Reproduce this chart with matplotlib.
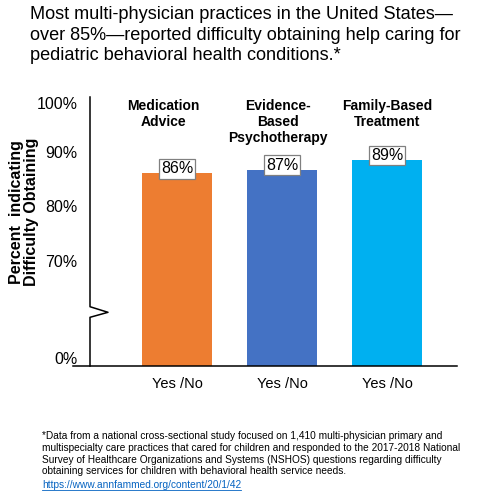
import numpy as np
import matplotlib
matplotlib.use("Agg")
import matplotlib.pyplot as plt
import matplotlib.transforms as mtransforms

plt.rcParams['font.family'] = ['Liberation Sans', 'DejaVu Sans']

categories = ["Medication\nAdvice", "Evidence-\nBased\nPsychotherapy", "Family-Based\nTreatment"]
values = [86.0, 86.7, 88.5]
value_labels = ["86%", "87%", "89%"]
xtick_labels = ["Yes /No", "Yes /No", "Yes /No"]
colors = ["#ED7D31", "#4472C4", "#00B0F0"]
ytick_values = [0, 70, 80, 90, 100]
ytick_labels = ["0%", "70%", "80%", "90%", "100%"]

title = ("Most multi-physician practices in the United States\u2014\n"
         "over 85%\u2014reported difficulty obtaining help caring for\n"
         "pediatric behavioral health conditions.*")
footnote = ("*Data from a national cross-sectional study focused on 1,410 multi-physician primary and\n"
            "multispecialty care practices that cared for children and responded to the 2017-2018 National\n"
            "Survey of Healthcare Organizations and Systems (NSHOS) questions regarding difficulty\n"
            "obtaining services for children with behavioral health service needs.")
url = "https://www.annfammed.org/content/20/1/42"

BREAK = 60.0
LOW0 = 50.7


def fwd(v):
    v = np.asarray(v, dtype=float)
    return np.where(v >= BREAK, v, LOW0 + v * (BREAK - LOW0) / BREAK)


def inv(u):
    u = np.asarray(u, dtype=float)
    return np.where(u >= BREAK, u, (u - LOW0) * BREAK / (BREAK - LOW0))


fig = plt.figure(figsize=(4.82, 5.0), dpi=100)
ax = fig.add_axes([90 / 482, 1 - 366 / 500, (457 - 90) / 482, (366 - 97) / 500])
ax.set_yscale('function', functions=(fwd, inv))

x = np.arange(len(values))
ax.bar(x, values, width=0.667, color=colors, zorder=2)
ax.set_ylim(0, 100)
ax.set_xlim(-0.829, 2.667)

ax.set_yticks(ytick_values)
ax.set_yticklabels(ytick_labels, fontsize=11.5)
ax.tick_params(axis='y', length=0, pad=9)
ax.set_xticks(x)
ax.set_xticklabels(xtick_labels, fontsize=10.5)
ax.tick_params(axis='x', length=0, pad=8)

# nudge end labels inward like the reference
labs = ax.get_yticklabels()
labs[0].set_transform(labs[0].get_transform() + mtransforms.ScaledTranslation(0, 8 / 100, fig.dpi_scale_trans))
labs[-1].set_transform(labs[-1].get_transform() + mtransforms.ScaledTranslation(0, -6 / 100, fig.dpi_scale_trans))

for s in ['top', 'right', 'left', 'bottom']:
    ax.spines[s].set_visible(False)

# y axis with break zigzag
zx = [0, 0, 0.049, 0, 0]
zy = [1, 0.2204, 0.1996, 0.181, 0]
ax.plot(zx, zy, transform=ax.transAxes, color='black', lw=1.1, clip_on=False, zorder=3)
# x axis line
ax.plot([-0.046, 1], [0, 0], transform=ax.transAxes, color='black', lw=1.1, clip_on=False, zorder=3)

# value labels
for xi, v, lab in zip(x, values, value_labels):
    ax.annotate(lab, xy=(xi, v), xytext=(0, 4.5), textcoords='offset pixels',
                ha='center', va='center', fontsize=11.5, zorder=4,
                bbox=dict(boxstyle='square,pad=0.14', fc='white', ec='#808080', lw=0.9))

# category headers
header_offsets = [-0.13, -0.04, 0.0]
btrans = mtransforms.blended_transform_factory(ax.transData, ax.transAxes)
for xi, cat, off in zip(x, categories, header_offsets):
    ax.text(xi + off, 0.993, cat, transform=btrans, ha='center', va='top',
            fontsize=10, fontweight='bold', linespacing=1.2)

# y label
fig.text(24 / 482, 1 - 212 / 500, "Percent  indicating\nDifficulty Obtaining", rotation=90,
         ha='center', va='center', fontsize=11.5, fontweight='bold', linespacing=1.08)

# title
fig.text(30 / 482, 1 - 6 / 500, title, ha='left', va='top', fontsize=13.1, linespacing=1.28)

# footnote
fig.text(42 / 482, 1 - 431 / 500, footnote, ha='left', va='top', fontsize=7.3, linespacing=1.22)
t = fig.text(42 / 482, 1 - 480 / 500, url, ha='left', va='top', fontsize=7.3, color='#0563C1')
fig.canvas.draw()
bb = t.get_window_extent()
fig.add_artist(matplotlib.lines.Line2D([bb.x0 / 482, bb.x1 / 482], [(bb.y0 + 0.5) / 500] * 2,
                                       color='#0563C1', lw=0.6))

fig.savefig("out.png", dpi=100)
